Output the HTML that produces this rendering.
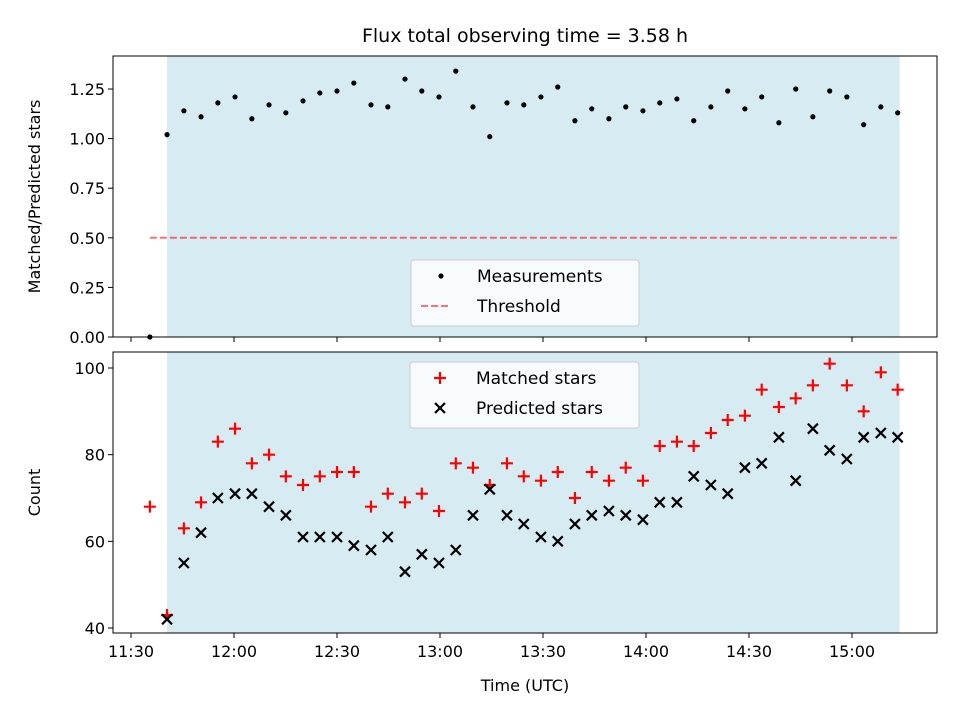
<!DOCTYPE html>
<html><head><meta charset="utf-8">
<style>
html,body{margin:0;padding:0;background:#fff;}
svg{display:block;font-family:"DejaVu Sans","Liberation Sans",sans-serif;}
</style></head>
<body>
<svg id="chart" width="960" height="720" viewBox="0 0 960 720">
<text x="525" y="42" font-size="19" text-anchor="middle">Flux total observing time = 3.58 h</text>
<g id="topPanel"></g>
<g id="botPanel"></g>
</svg>
<script>
// minutes after 11:30
const times = [5.5,10.5,15.4,20.4,25.3,30.3,35.2,40.2,45.1,50.1,55.0,60.0,64.9,69.9,74.8,79.8,84.7,89.7,94.6,99.6,104.5,109.5,114.4,119.4,124.3,129.3,134.2,139.2,144.1,149.1,154.0,159.0,163.9,168.9,173.8,178.8,183.7,188.7,193.6,198.6,203.5,208.5,213.4,218.4,223.3];
const ratio = [0.0,1.02,1.14,1.11,1.18,1.21,1.10,1.17,1.13,1.19,1.23,1.24,1.28,1.17,1.16,1.30,1.24,1.21,1.34,1.16,1.01,1.18,1.17,1.21,1.26,1.09,1.15,1.10,1.16,1.14,1.18,1.20,1.09,1.16,1.24,1.15,1.21,1.08,1.25,1.11,1.24,1.21,1.07,1.16,1.13];
const matched = [68,43,63,69,83,86,78,80,75,73,75,76,76,68,71,69,71,67,78,77,73,78,75,74,76,70,76,74,77,74,82,83,82,85,88,89,95,91,93,96,101,96,90,99,95];
const predicted = [null,42,55,62,70,71,71,68,66,61,61,61,59,58,61,53,57,55,58,66,72,66,64,61,60,64,66,67,66,65,69,69,75,73,71,77,78,84,74,86,81,79,84,85,84];
const threshold = 0.5;
const xTickLabels = ["11:30","12:00","12:30","13:00","13:30","14:00","14:30","15:00"];
const xTickMinutes = [0,30,60,90,120,150,180,210];
const yTopTicks = [0.00,0.25,0.50,0.75,1.00,1.25];
const yBotTicks = [40,60,80,100];

const NS="http://www.w3.org/2000/svg";
const X0=113,X1=937;
const xs = m => 131 + m*103/30;
const yT = v => 337 - v*198.4;
const yB = v => 628 - (v-40)*260/60;
function mk(parent,tag,attrs,text){const e=document.createElementNS(NS,tag);for(const k in attrs)e.setAttribute(k,attrs[k]);if(text!==undefined)e.textContent=text;parent.appendChild(e);return e;}

function panel(g,t0,b0,yTicks,yf,fmt,ylabel,showXLabels){
  const span=mk(g,'rect',{x:xs(times[1]),y:t0,width:xs(times[times.length-1])+2-xs(times[1]),height:b0-t0,fill:'#add8e6','fill-opacity':0.5});
  
  
  for(let i=0;i<xTickMinutes.length;i++){
    const x=xs(xTickMinutes[i]);
    mk(g,'line',{x1:x,x2:x,y1:b0,y2:b0+5,stroke:'#000','stroke-width':1});
    if(showXLabels){const t=mk(g,'text',{x:x,y:b0+24,'font-size':16,'text-anchor':'middle'},xTickLabels[i]);
      
      }
  }
  for(const v of yTicks){
    const y=yf(v);
    mk(g,'line',{x1:X0-5,x2:X0,y1:y,y2:y,stroke:'#000','stroke-width':1});
    const t=mk(g,'text',{x:X0-8,y:y+6,'font-size':16,'text-anchor':'end'},fmt(v));
    
    
  }
  const yl=mk(g,'text',{x:0,y:0,'font-size':16,'text-anchor':'middle',transform:`translate(${X0-73},${(t0+b0)/2}) rotate(-90)`},ylabel);
  
  
}
const topG=document.getElementById('topPanel'), botG=document.getElementById('botPanel');
panel(topG,56,337,yTopTicks,yT,v=>v.toFixed(2),'Matched/Predicted stars',false);
panel(botG,352,633,yBotTicks,yB,v=>String(v),'Count',true);

const th=mk(topG,'line',{x1:xs(times[0]),x2:xs(times[times.length-1])+2,y1:yT(threshold),y2:yT(threshold),stroke:'#ff0000','stroke-opacity':0.55,'stroke-width':2,'stroke-dasharray':'7,3'});


ratio.forEach((v,i)=>{
  const c=mk(topG,'circle',{cx:xs(times[i]),cy:yT(v),r:2.6,fill:'#000'});
  
  
});
matched.forEach((v,i)=>{
  const x=xs(times[i]),y=yB(v);
  const p=mk(botG,'path',{d:`M${x-6},${y}H${x+6}M${x},${y-6}V${y+6}`,stroke:'#ff0000','stroke-width':2.2});
  
  
});
predicted.forEach((v,i)=>{
  if(v===null)return;
  const x=xs(times[i]),y=yB(v);
  const p=mk(botG,'path',{d:`M${x-5},${y-5}L${x+5},${y+5}M${x-5},${y+5}L${x+5},${y-5}`,stroke:'#000','stroke-width':2.2});
  
  
});
mk(topG,'rect',{x:X0,y:56,width:X1-X0,height:281,fill:'none',stroke:'#000','stroke-width':1});
mk(botG,'rect',{x:X0,y:352,width:X1-X0,height:281,fill:'none',stroke:'#000','stroke-width':1});
const xl=mk(botG,'text',{x:525,y:691,'font-size':16,'text-anchor':'middle'},'Time (UTC)');



function legend(g,x,y,w,h,entries,name){
  const lg=mk(g,'g',{});
  
  
  mk(lg,'rect',{x:x,y:y,width:w,height:h,rx:3,fill:'#fff','fill-opacity':0.8,stroke:'#ccc'});
  entries.forEach((e,i)=>{
    const cy=y+16+i*30, cx=x+30;
    if(e.t==='dot')mk(lg,'circle',{cx:cx,cy:cy,r:2.6,fill:'#000'});
    if(e.t==='dash')mk(lg,'line',{x1:cx-20,x2:cx+8,y1:cy,y2:cy,stroke:'#ff0000','stroke-opacity':0.55,'stroke-width':2,'stroke-dasharray':'7,3'});
    if(e.t==='plus')mk(lg,'path',{d:`M${cx-6},${cy}H${cx+6}M${cx},${cy-6}V${cy+6}`,stroke:'#ff0000','stroke-width':2.2});
    if(e.t==='x')mk(lg,'path',{d:`M${cx-5},${cy-5}L${cx+5},${cy+5}M${cx-5},${cy+5}L${cx+5},${cy-5}`,stroke:'#000','stroke-width':2.2});
    const t=mk(lg,'text',{x:x+66,y:cy+6,'font-size':17},e.label);
    
    
  });
}
legend(topG,411,260,228,66,[{t:'dot',label:'Measurements'},{t:'dash',label:'Threshold'}],'top-legend');
legend(botG,410,362,229,66,[{t:'plus',label:'Matched stars'},{t:'x',label:'Predicted stars'}],'bottom-legend');
</script>
</body></html>
